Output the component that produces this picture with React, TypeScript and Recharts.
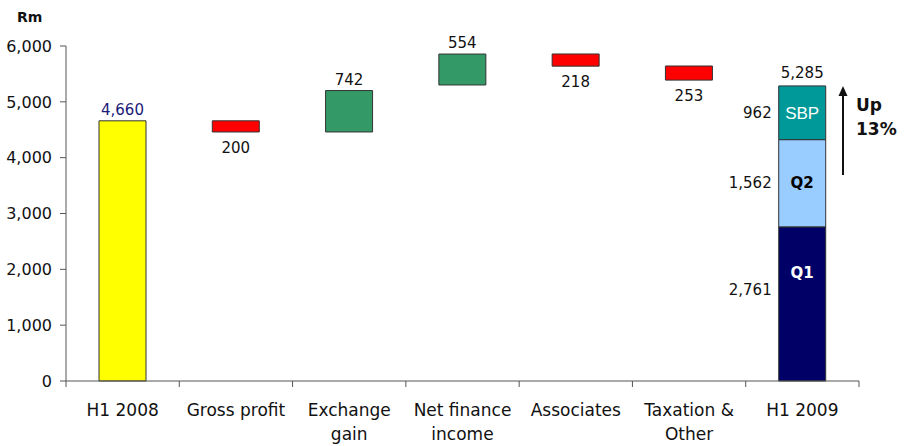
import { BarChart, Bar, XAxis, YAxis, LabelList } from "recharts";

// waterfall: H1 2008 -> H1 2009 earnings bridge, Rm
const categories = ["H1 2008", "Gross profit", "Exchange\ngain", "Net finance\nincome", "Associates", "Taxation &\nOther", "H1 2009"];
const bases = [0, 4460, 4460, 5302, 5639, 5389, 0];
const changes = [4660, 200, 742, 554, 218, 253, null];
const kinds = ["total", "down", "up", "up", "down", "down", "stack"];
const q1 = [null, null, null, null, null, null, 2761];
const q2 = [null, null, null, null, null, null, 1562];
const sbp = [null, null, null, null, null, null, 962];
const yTicks = [0, 1000, 2000, 3000, 4000, 5000, 6000];

const FONT = "'DejaVu Sans', Verdana, sans-serif";
const AXIS = "#555";
const OUTLINE = "#333";

const pick = (k: string) => changes.map((v, i) => (kinds[i] === k ? v : null));

const data = categories.map((name, i) => ({
  name,
  base: bases[i],
  total: pick("total")[i],
  down: pick("down")[i],
  up: pick("up")[i],
  q1: q1[i],
  q2: q2[i],
  sbp: sbp[i],
}));

const last = categories.length - 1;
const h2009Total = (q1[last] ?? 0) + (q2[last] ?? 0) + (sbp[last] ?? 0);

const fmt = (v: number) => v.toLocaleString("en-US");

function box(p: any) {
  const vb = p.viewBox && p.viewBox.width != null ? p.viewBox : p;
  return { x: +vb.x, y: +vb.y, w: +vb.width, h: +vb.height };
}

const aboveLabel = (color: string) => (p: any) => {
  if (p.value == null) return null;
  const { x, y, w } = box(p);
  return (
    <text x={x + w / 2} y={y - 6} textAnchor="middle" fontSize={15} fontFamily={FONT} fill={color}>
      {fmt(Number(p.value))}
    </text>
  );
};

const belowLabel = (p: any) => {
  if (p.value == null) return null;
  const { x, y, w, h } = box(p);
  return (
    <text x={x + w / 2} y={y + h + 21} textAnchor="middle" fontSize={15} fontFamily={FONT} fill="#111">
      {fmt(Number(p.value))}
    </text>
  );
};

const segmentLabel = (name: string, color: string, bold: boolean, showTotal = false) => (p: any) => {
  if (p.value == null) return null;
  const { x, y, w, h } = box(p);
  return (
    <g>
      <text x={x - 7} y={y + Math.min(h / 2, 63)} dy="0.35em" textAnchor="end" fontSize={15} fontFamily={FONT} fill="#111">
        {fmt(Number(p.value))}
      </text>
      <text
        x={x + w / 2}
        y={y + Math.min(h / 2, 46)}
        dy="0.35em"
        textAnchor="middle"
        fontSize={bold ? 15 : 17}
        fontWeight={bold ? "bold" : "normal"}
        fontFamily={bold ? FONT : "'Liberation Sans', Arial, sans-serif"}
        fill={color}
      >
        {name}
      </text>
      {showTotal && (
        <text x={x + w / 2} y={y - 8} textAnchor="middle" fontSize={15} fontFamily={FONT} fill="#111">
          {fmt(h2009Total)}
        </text>
      )}
    </g>
  );
};

function CategoryTick(props: any) {
  const { x, y, payload, index, visibleTicksCount } = props;
  const half = payload.offset ?? 56.6;
  const lines = String(payload.value).split("\n");
  return (
    <g>
      <line x1={x - half} x2={x - half} y1={y} y2={y + 6} stroke={AXIS} />
      {index === visibleTicksCount - 1 && <line x1={x + half} x2={x + half} y1={y} y2={y + 6} stroke={AXIS} />}
      <text x={x} y={y + 35} textAnchor="middle" fontSize={17} fontFamily={FONT} fill="#111">
        {lines.map((l, i) => (
          <tspan key={i} x={x} dy={i === 0 ? 0 : 24}>
            {l}
          </tspan>
        ))}
      </text>
    </g>
  );
}

export default function App() {
  return (
    <div style={{ position: "absolute", left: 0, top: 0, width: 905, height: 446, background: "#fff" }}>
      <BarChart width={905} height={446} data={data} margin={{ top: 46, right: 46, left: 0, bottom: 0 }} barSize={47}>
        <XAxis
          dataKey="name"
          height={65}
          interval={0}
          tickLine={false}
          tickSize={0}
          tickMargin={0}
          axisLine={{ stroke: AXIS }}
          tick={<CategoryTick />}
        />
        <YAxis
          width={66}
          domain={[0, 6000]}
          ticks={yTicks}
          tickFormatter={fmt}
          tickSize={6}
          tickMargin={8}
          axisLine={{ stroke: AXIS }}
          tickLine={{ stroke: AXIS }}
          tick={{ fontSize: 16, fontFamily: FONT, fill: "#111" }}
        />
        <Bar dataKey="base" stackId="a" fill="transparent" isAnimationActive={false} />
        <Bar dataKey="total" stackId="a" fill="#FFFF00" stroke={OUTLINE} isAnimationActive={false}>
          <LabelList dataKey="total" content={aboveLabel("#1a1a7a")} />
        </Bar>
        <Bar dataKey="down" stackId="a" fill="#FF0000" stroke={OUTLINE} isAnimationActive={false}>
          <LabelList dataKey="down" content={belowLabel} />
        </Bar>
        <Bar dataKey="up" stackId="a" fill="#339966" stroke={OUTLINE} isAnimationActive={false}>
          <LabelList dataKey="up" content={aboveLabel("#111")} />
        </Bar>
        <Bar dataKey="q1" stackId="a" fill="#000066" stroke={OUTLINE} isAnimationActive={false}>
          <LabelList dataKey="q1" content={segmentLabel("Q1", "#fff", true)} />
        </Bar>
        <Bar dataKey="q2" stackId="a" fill="#99CCFF" stroke={OUTLINE} isAnimationActive={false}>
          <LabelList dataKey="q2" content={segmentLabel("Q2", "#000", true)} />
        </Bar>
        <Bar dataKey="sbp" stackId="a" fill="#009999" stroke={OUTLINE} isAnimationActive={false}>
          <LabelList dataKey="sbp" content={segmentLabel("SBP", "#fff", false, true)} />
        </Bar>
      </BarChart>
      <svg width={905} height={446} style={{ position: "absolute", left: 0, top: 0, pointerEvents: "none" }}>
        <text x={17} y={22} fontSize={14} fontWeight="bold" fontFamily={FONT} fill="#111">
          Rm
        </text>
        <line x1={843} x2={843} y1={175} y2={93} stroke="#111" strokeWidth={2} />
        <polygon points="843,86 838.5,96 847.5,96" fill="#111" />
        <text x={856} y={111} fontSize={17} fontWeight="bold" fontFamily={FONT} fill="#111">
          Up
        </text>
        <text x={856} y={135} fontSize={17} fontWeight="bold" fontFamily={FONT} fill="#111">
          13%
        </text>
      </svg>
    </div>
  );
}
